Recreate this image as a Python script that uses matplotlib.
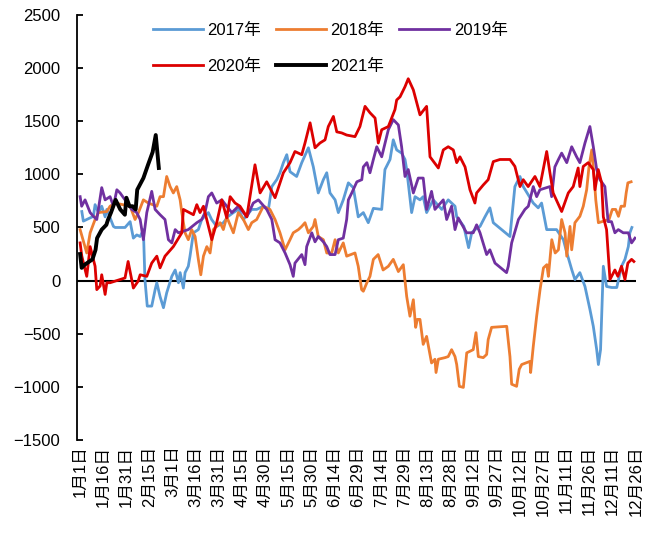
import numpy as np
import matplotlib
matplotlib.use('Agg')
from matplotlib import pyplot as plt

plt.rcParams['font.family'] = ['Liberation Sans', 'Noto Sans CJK SC']

# x = day of year (2020 calendar, 0 = 1月1日)
tick_days = np.arange(0, 361, 15)
tick_labels = ['1月1日', '1月16日', '1月31日', '2月15日', '3月1日', '3月16日', '3月31日',
               '4月15日', '4月30日', '5月15日', '5月30日', '6月14日', '6月29日', '7月14日',
               '7月29日', '8月13日', '8月28日', '9月12日', '9月27日', '10月12日', '10月27日',
               '11月11日', '11月26日', '12月11日', '12月26日']

d2017 = [1.1, 2.1, 8.6, 9.7, 11.9, 14, 16.2, 17.3, 21.6, 22.7, 29.1, 32.4, 34.5, 36.7, 38.9, 41,
         42, 43.5, 46.4, 48.6, 49.7, 51.8, 54, 56.1, 59.4, 61.6, 63.7, 64.8, 66.9, 68, 70.1, 71.2,
         73.4, 76.6, 78.8, 83.1, 85.2, 88.5, 92.8, 96, 99.3, 102.5, 105.8, 111.2, 114.4, 118.7,
         122, 124.2, 127.4, 129.5, 131.7, 133.9, 136, 140.3, 143.6, 147.9, 151.1, 154.3, 157.6,
         159.8, 161.9, 165.2, 167.3, 170.5, 173.8, 177, 180.2, 183.5, 186.7, 190, 195.4, 197.5,
         200.8, 202.9, 205.1, 208.3, 210.5, 211.6, 214.8, 217, 220.2, 222.3, 224.5, 228.8, 234.3,
         238.5, 240.7, 242.9, 244, 248.6, 251.7, 253.7, 255.8, 259.1, 262.3, 265.5, 267.7, 278.5,
         281.7, 285, 287.1, 293.6, 296.8, 299, 302.3, 308.7, 313.1, 315.4, 318.6, 320.6, 323.8,
         327.1, 330.3, 332.5, 334.7, 335.8, 337.2, 339, 341.1, 344.4, 347.7, 350.8, 353, 355.2,
         356.2, 357.5]
v2017 = [650, 560, 605, 715, 640, 700, 600, 670, 510, 500, 500, 555, 400, 430, 415, 480,
         10, -240, -240, -85, -20, -150, -255, -115, 40, 100, -20, 75, -70, 75, 135, 230,
         450, 480, 575, 640, 575, 510, 545, 605, 640, 670, 575, 670, 670, 700,
         670, 885, 950, 1015, 1110, 1185, 1025, 980, 1110, 1250, 1070, 825, 950,
         1015, 825, 760, 640, 760, 920, 875, 600, 640, 545, 680, 670, 1045,
         1140, 1325, 1230, 1200, 1140, 1045, 640, 790, 760, 790, 640, 760, 670,
         760, 730, 700, 600, 510, 310, 450, 480, 510, 600, 685, 545, 415,
         885, 980, 885, 730, 685, 730, 480, 480, 385, 260, 100, 10, 75,
         -55, -270, -430, -650, -790, -650, 135, -55, -65, -65, 135, 200, 320,
         450, 500]

d2018 = [0, 4.3, 6.5, 9.7, 11.9, 17.3, 19.4, 22.7, 32.4, 35.6, 37.8, 41, 44.2, 49.7, 51.8, 54,
         56.1, 58.3, 60.4, 62.6, 64.8, 65.9, 68, 70.1, 72.3, 74.5, 76.6, 78.2, 79.9, 82.1, 84.2,
         86.3, 90.7, 92.8, 95, 99.3, 102.5, 105.8, 109, 111.2, 114.4, 118.7, 123, 126.3, 129.5,
         132.8, 136, 138.1, 141.4, 143.6, 145.7, 147.9, 151.1, 152.2, 154.3, 157.6, 159.8, 163,
         165.2, 167.3, 170.5, 172.7, 178.1, 180.2, 182.4, 183.5, 185.8, 187.8, 190, 193.1, 196.3,
         199.7, 202.9, 206.2, 209.4, 211.6, 213.7, 215.9, 217.4, 218.5, 220.2, 222.3, 224.5,
         227.7, 229.9, 230.6, 232.1, 236.4, 238.5, 240.7, 242.9, 244, 245.7, 248.3, 250.5, 254.7,
         256.5, 258, 261.2, 263.4, 264.4, 266.6, 276.4, 278.5, 279.6, 282.8, 284.5, 286.1, 291.5,
         291.9, 293.6, 295.8, 298, 300.2, 302.4, 303.4, 305.6, 307.8, 309.9, 312, 314.2, 315.3,
         317.4, 318.5, 320.6, 323.8, 326, 328.2, 329.7, 331.5, 333.2, 334.1, 335.8, 342.7, 344.8,
         347, 348.8, 350.5, 352.7, 353.8, 354.9, 357]
v2018 = [480, 260, 450, 575, 640, 650, 700, 730, 700, 575, 640, 760, 730, 700, 790, 790,
         980, 885, 825, 885, 760, 640, 450, 385, 480, 415, 200, 55, 230, 320, 260,
         480, 545, 480, 600, 450, 640, 575, 480, 545, 575, 700, 670, 575, 450,
         290, 385, 450, 480, 510, 545, 450, 510, 575, 415, 385, 260, 260,
         385, 260, 355, 230, 260, 135, -85, -100, -20, 40, 200, 245, 100,
         135, 200, 85, 150, -150, -335, -180, -440, -365, -365, -600, -525,
         -775, -740, -865, -740, -725, -715, -650, -715, -790, -995, -1005, -680, -650,
         -490, -715, -725, -695, -555, -440, -430, -715, -975, -995, -835, -790, -760,
         -865, -620, -335, -85, 120, 150, 40, 385, 260, 290, 575, 450, 230,
         510, 290, 545, 605, 700, 855, 1070, 1230, 950, 760, 545, 575, 670,
         670, 605, 700, 700, 825, 920, 930]

d2019 = [0, 1, 3.2, 6.5, 8.6, 10.8, 14, 16.2, 19.4, 21.6, 23.8, 25.9, 29.1, 33.5, 36.7, 38.9,
         41, 43.2, 46.4, 48.6, 51.8, 55, 57.2, 59.4, 61.6, 63.7, 70.1, 75.6, 78.8, 80.9, 83.1,
         85.3, 88.5, 91.8, 95, 98.3, 102.5, 108, 112.2, 115.5, 120.9, 124.2, 126.3, 129.5,
         132.8, 136, 138.1, 139.2, 143.6, 145.7, 146.8, 150.1, 152.2, 154.3, 157.6, 159.8, 161.9,
         165.2, 167.3, 170.5, 172.7, 173.8, 176, 179.3, 182.5, 183.5, 185.8, 187.8, 190, 192.2,
         195.4, 199.7, 202.9, 206.2, 208.3, 210.5, 212.6, 215.9, 219.1, 222.3, 224.5, 227.7,
         229.9, 235.3, 237.5, 240.7, 242.9, 245, 250.4, 254.7, 256.9, 259.1, 263.4, 265.5, 268.8,
         276.3, 277.4, 279.6, 284, 288.2, 290.4, 293.6, 295.8, 297.9, 304.4, 305.5, 307.6, 309.9,
         312, 315.3, 318.5, 321.7, 323.8, 327.1, 330.3, 332.5, 334.7, 336.8, 340, 342.1, 344.3,
         346.5, 348.7, 351.9, 355.2, 357.3, 359.5]
v2019 = [790, 700, 760, 640, 605, 575, 875, 760, 790, 700, 855, 825, 760, 670, 640, 575,
         385, 640, 840, 670, 620, 575, 385, 355, 480, 450, 480, 545, 575, 640, 790,
         825, 730, 760, 700, 640, 700, 600, 730, 760, 670, 575, 385, 355,
         260, 150, 40, 165, 245, 150, 320, 450, 365, 415, 365, 320, 245,
         245, 385, 400, 575, 760, 825, 930, 950, 1070, 1110, 1015, 1140, 1260,
         1165, 1420, 1515, 1465, 1260, 980, 1045, 825, 965, 965, 670, 840,
         670, 760, 575, 700, 480, 590, 450, 450, 525, 450, 245, 290, 165,
         75, 135, 355, 575, 670, 700, 885, 790, 855, 885, 790, 1070, 1140,
         1200, 1110, 1260, 1165, 1110, 1295, 1450, 1260, 1045, 950, 885, 555, 555,
         450, 480, 450, 450, 355, 400]

d2020 = [0, 1.1, 4.3, 6.5, 9.7, 10.8, 13, 14, 16.2, 17.3, 19.4, 29.1, 31.1, 34.5, 37.6, 38.9,
         43.2, 46.4, 49.7, 51.8, 55, 60.4, 65.9, 66.9, 73.4, 75.6, 77.7, 79.9, 85.3, 88.5, 91.8,
         95, 97.2, 100.4, 103.6, 108, 113.3, 116.6, 120.9, 126.3, 131.7, 136, 139.2, 143.6,
         145.7, 149, 152.2, 155.4, 158.7, 160.8, 164.1, 166.3, 169.5, 172.7, 178.1, 181.3, 184.6,
         187.8, 191.1, 193.2, 195.4, 199.7, 204, 205.1, 207.3, 210.5, 212.6, 215.9, 220.2, 224.5,
         226.7, 232.1, 235.3, 238.5, 241.8, 244, 246.1, 249.4, 252.6, 255.8, 256.9, 261.2, 264.4,
         267.7, 272, 278.5, 281.7, 285, 287.1, 290.3, 294.7, 297.9, 302.3, 304.4, 306.5, 312,
         316.3, 319.5, 322.7, 323.8, 326, 329.2, 332.5, 333.6, 335.7, 337.9, 339, 341.1, 343.3,
         346.5, 348.4, 350.8, 353, 354.9, 357.3, 358.8]
v2020 = [355, 230, 40, 320, 135, -85, -50, 55, -130, -20, -20, 25, 180, -70, -5, 55,
         40, 165, 230, 120, 230, 320, 450, 670, 620, 715, 640, 700, 385, 545, 760,
         590, 790, 730, 700, 600, 1090, 825, 930, 780, 1015, 1110, 1215, 1185,
         1295, 1485, 1250, 1295, 1325, 1450, 1545, 1400, 1390, 1370, 1355, 1450, 1640,
         1580, 1530, 1295, 1420, 1450, 1610, 1700, 1730, 1825, 1900, 1795, 1560, 1640,
         1165, 1060, 1230, 1260, 1230, 1110, 1165, 1070, 855, 730, 825, 900, 950,
         1120, 1140, 1140, 1075, 885, 950, 885, 980, 885, 1215, 1015, 825, 650,
         825, 885, 1060, 885, 1075, 1110, 1045, 855, 1045, 920, 600, 480, 10,
         100, 40, 135, 10, 165, 200, 180]

d2021 = [0, 1, 3, 5, 8, 10, 11, 14, 17, 18, 20, 23, 24, 26, 29, 30, 32, 34, 36, 37,
         41, 44, 47, 49, 51]
v2021 = [250, 120, 150, 170, 200, 290, 400, 480, 525, 570, 640, 760, 730, 670, 620, 780,
         700, 700, 670, 855, 965, 1090, 1210, 1370, 1060]

fig = plt.figure(figsize=(6.55, 5.35), dpi=100)
ax = fig.add_axes([0.1176, 0.1776, 0.853, 0.7944])

l17, = ax.plot(d2017, v2017, color='#5B9BD5', lw=2.0, label='2017年')
l18, = ax.plot(d2018, v2018, color='#ED7D31', lw=2.0, label='2018年')
l19, = ax.plot(d2019, v2019, color='#7030A0', lw=2.0, label='2019年')
l20, = ax.plot(d2020, v2020, color='#DC0000', lw=2.0, label='2020年')
l21, = ax.plot(d2021, v2021, color='black', lw=2.8, label='2021年')

ax.axhline(0, color='black', lw=1.5, zorder=1)

ax.set_xlim(-2, 360)
ax.set_ylim(-1500, 2500)
ax.set_yticks(np.arange(-1500, 2501, 500))
ax.set_xticks(tick_days)
ax.set_xticklabels(tick_labels, rotation=90)

for s in ['top', 'right', 'bottom']:
    ax.spines[s].set_visible(False)
ax.spines['left'].set_linewidth(1.3)
ax.tick_params(axis='y', direction='in', length=4, width=1.3, labelsize=12, pad=12)
ax.tick_params(axis='x', length=0, labelsize=12, pad=4)

# legend fills by column, so order handles to read row-wise
handles = [l17, l20, l18, l21, l19]
fig.legend(handles, [h.get_label() for h in handles],
           loc='upper left', bbox_to_anchor=(0.21, 0.985), ncol=3, frameon=False,
           fontsize=12, handlelength=3.0, handletextpad=0.3, columnspacing=0.85,
           labelspacing=1.25)

fig.savefig('out.png', dpi=100)
